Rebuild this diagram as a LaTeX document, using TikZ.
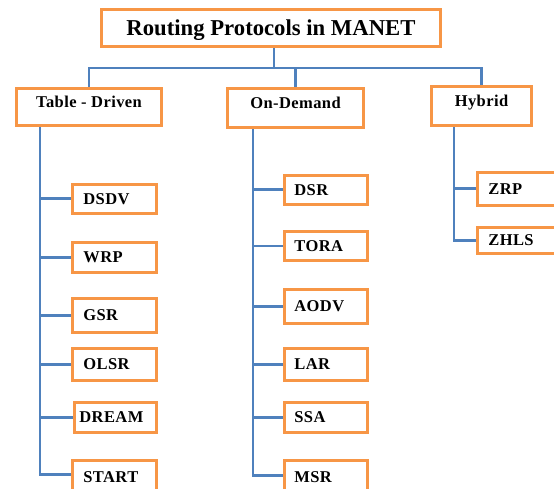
\documentclass[tikz,border=0pt]{standalone}
\usepackage{fontspec}
\setmainfont{Liberation Serif}
\newfontfamily\lblfont[LetterSpace=2.5]{Liberation Serif}
\usetikzlibrary{backgrounds}
\definecolor{borange}{HTML}{F79646}
\definecolor{cblue}{HTML}{4F81BD}
\begin{document}
\begin{tikzpicture}[x=1pt,y=-1pt,
  box/.style={draw=borange, line width=2.8pt, fill=white, inner sep=0pt},
  titlebox/.style={box, font=\bfseries\fontsize{22.7}{26}\selectfont, text height=15pt, text depth=0pt, minimum width=339.5pt, minimum height=37.5pt},
  catbox/.style={box, font=\lblfont\bfseries\fontsize{16.5}{19}\selectfont, text height=11pt, text depth=9pt},
  leaf/.style={box, anchor=north west, font=\lblfont\bfseries\fontsize{16.5}{19}\selectfont, text height=11pt, text depth=0pt, align=left},
  leafL/.style={leaf, inner xsep=10.75pt, text width=62pt},
  leafM/.style={leaf, inner xsep=9.75pt, text width=63pt},
  leafR/.style={leaf, inner xsep=10.75pt, text width=62pt},
  link/.style={draw=cblue, line width=2.8pt}]
\useasboundingbox (0,0) rectangle (554,489);
\clip (0,0) rectangle (554,489);

% title and categories
\node[titlebox] (title) at (271,28) {Routing Protocols in MANET};
\node[catbox, minimum width=145.5pt, minimum height=37.5pt] (td) at (89,107) {Table - Driven};
\node[catbox, minimum width=136.5pt, minimum height=39.5pt] (od) at (295.5,108) {On-Demand};
\node[catbox, minimum width=100.5pt, minimum height=39.5pt] (hy) at (481.5,106) {Hybrid};

% table-driven leaves
\node[leafL, minimum height=28.5pt] (dsdv) at (71.25,183.25) {DSDV};
\node[leafL, minimum height=29.5pt] (wrp) at (71.25,241.25) {WRP};
\node[leafL, minimum height=33.5pt] (gsr) at (71.25,297.25) {GSR};
\node[leafL, minimum height=31.5pt] (olsr) at (71.25,347.25) {OLSR};
\node[leaf, inner xsep=4.75pt, text width=72pt, minimum height=29.5pt] (dream) at (73.25,401.25) {DREAM};
\node[leafL, minimum height=31.75pt] (start) at (71.25,459.25) {START};

% on-demand leaves
\node[leafM, minimum height=28.5pt] (dsr) at (283.25,174.25) {DSR};
\node[leafM, minimum height=28.5pt] (tora) at (283.25,230.25) {TORA};
\node[leafM, minimum height=33.5pt] (aodv) at (283.25,288.25) {AODV};
\node[leafM, minimum height=31.5pt] (lar) at (283.25,347.25) {LAR};
\node[leafM, minimum height=29.5pt] (ssa) at (283.25,401.25) {SSA};
\node[leafM, minimum height=31.75pt] (msr) at (283.25,459.25) {MSR};

% hybrid leaves
\node[leafR, minimum height=32.5pt] (zrp) at (476.25,171.25) {ZRP};
\node[leafR, minimum height=25.5pt] (zhls) at (476.25,226.25) {ZHLS};

\coordinate (bus) at (0,68);
\coordinate (tdx) at (40,0);
\coordinate (odx) at (253,0);
\coordinate (hyx) at (454,0);

\begin{scope}[on background layer]
  \draw[link] ([xshift=3pt]title.south) -- ([xshift=3pt]title.south |- bus);
  \draw[link] (td.north) -- (td.north |- bus) -- (hy.north |- bus) -- (hy.north);
  \draw[link] (od.north) -- (od.north |- bus);
  % table-driven trunk
  \draw[link] (tdx |- td.south) |- ([yshift=2pt]start.west);
  \foreach \n in {dsdv,wrp,gsr,olsr,dream} \draw[link] (tdx |- \n.west) -- (\n.west);
  % on-demand trunk
  \draw[link] (odx |- od.south) |- ([yshift=1pt]msr.west);
  \foreach \n in {dsr,tora,aodv,lar,ssa} \draw[link] (odx |- \n.west) -- (\n.west);
  % hybrid trunk
  \draw[link] (hyx |- hy.south) |- (zhls.west);
  \draw[link] (hyx |- zrp.west) -- (zrp.west);
\end{scope}
\end{tikzpicture}
\end{document}
